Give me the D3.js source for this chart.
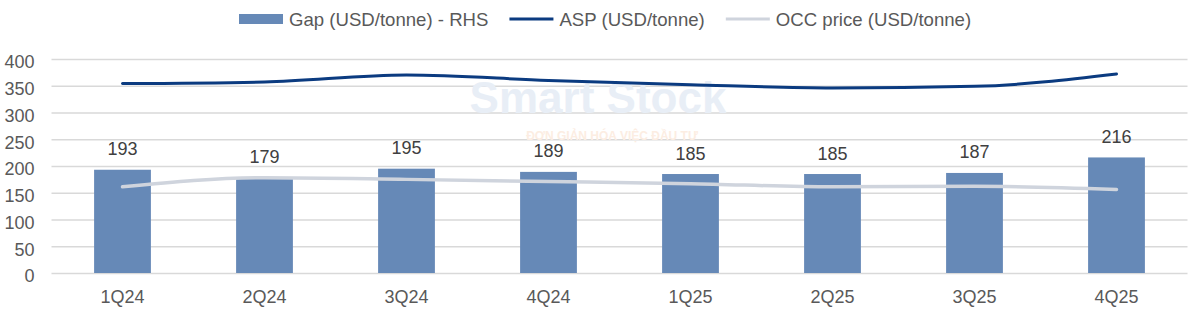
<!DOCTYPE html>
<html lang="en">
<head>
<meta charset="UTF-8">
<title>Gap ASP OCC</title>
<script src="https://cdn.jsdelivr.net/npm/d3@7"></script>
<style>
  * { margin: 0; padding: 0; }
  body { background: #fff; }
  text { font-family: Arial, "Liberation Sans", sans-serif; fill: #595959; }
</style>
</head>
<body>
<svg></svg>
<script>
  const quarters = ['1Q24', '2Q24', '3Q24', '4Q24', '1Q25', '2Q25', '3Q25', '4Q25'];
  const gap = [193, 179, 195, 189, 185, 185, 187, 216];
  const asp = [354, 357, 370, 360, 352, 346, 349, 372];
  const occ = [161, 178, 175, 171, 167, 161, 162, 156];
  const yTicks = [0, 50, 100, 150, 200, 250, 300, 350, 400];

  const width = 1200, height = 318;
  const svg = d3.select('svg').attr('width', width).attr('height', height);

  const x = d3.scaleBand()
    .domain(quarters)
    .range([51.5, 1187.5])
    .paddingInner(0.6)
    .paddingOuter(0.3);

  const y = d3.scaleLinear()
    .domain([0, 400])
    .range([273, 59]);

  // grid + left labels
  const yAxis = svg.append('g')
    .call(d3.axisLeft(y).tickValues(yTicks).tickSize(-(1187.5 - 51.5)).tickPadding(17))
    .attr('transform', 'translate(51.5,0)');
  yAxis.select('.domain').remove();
  yAxis.selectAll('.tick line').attr('stroke', '#d9d9d9').attr('stroke-width', 1.5);
  yAxis.selectAll('.tick text')
    .attr('font-size', 18).attr('fill', '#595959')
    .attr('font-family', 'Arial, "Liberation Sans", sans-serif')
    .attr('dy', '0.32em').attr('y', 3);

  // faint watermark
  const wm = svg.append('g');
  wm.append('text').attr('x', 598).attr('y', 113).attr('text-anchor', 'middle')
    .attr('font-size', 44).attr('font-weight', 'bold')
    .style('fill', '#e8eef6').text('Smart Stock');
  wm.append('text').attr('x', 612).attr('y', 140).attr('text-anchor', 'middle')
    .attr('font-size', 12).attr('font-weight', 'bold')
    .style('fill', '#fcede2').text('ĐƠN GIẢN HÓA VIỆC ĐẦU TƯ');

  // bars
  svg.append('g').selectAll('rect')
    .data(quarters).enter().append('rect')
    .attr('x', d => x(d))
    .attr('width', x.bandwidth())
    .attr('y', (d, i) => y(gap[i]))
    .attr('height', (d, i) => y(0) - y(gap[i]))
    .attr('fill', '#6689b7');

  svg.append('g').selectAll('text')
    .data(quarters).enter().append('text')
    .attr('x', d => x(d) + x.bandwidth() / 2)
    .attr('y', (d, i) => y(gap[i]) - 14.5)
    .attr('text-anchor', 'middle')
    .attr('font-size', 18)
    .style('fill', '#404040')
    .text((d, i) => gap[i]);

  const cx = d => x(d) + x.bandwidth() / 2;
  const line = vals => d3.line()
    .x(d => cx(d))
    .y((d, i) => y(vals[i]))
    .curve(d3.curveMonotoneX)(quarters);

  svg.append('path').attr('d', line(occ))
    .attr('fill', 'none').attr('stroke', '#cfd4dd').attr('stroke-width', 3.5)
    .attr('stroke-linecap', 'round');
  svg.append('path').attr('d', line(asp))
    .attr('fill', 'none').attr('stroke', '#0b3b80').attr('stroke-width', 3)
    .attr('stroke-linecap', 'round');

  // x labels
  svg.append('g').selectAll('text')
    .data(quarters).enter().append('text')
    .attr('x', d => cx(d))
    .attr('y', 303)
    .attr('text-anchor', 'middle')
    .attr('font-size', 18)
    .text(d => d);

  // legend
  const legendItems = [
    { label: 'Gap (USD/tonne) - RHS', type: 'bar', color: '#6689b7' },
    { label: 'ASP (USD/tonne)', type: 'line', color: '#0b3b80' },
    { label: 'OCC price (USD/tonne)', type: 'line', color: '#cfd4dd' }
  ];
  const legend = svg.append('g');
  let lx = 239;
  legendItems.forEach(it => {
    if (it.type === 'bar') {
      legend.append('rect').attr('x', lx).attr('y', 14).attr('width', 44).attr('height', 10).attr('fill', it.color);
    } else {
      legend.append('line').attr('x1', lx).attr('x2', lx + 44).attr('y1', 19).attr('y2', 19)
        .attr('stroke', it.color).attr('stroke-width', 3);
    }
    const t = legend.append('text').attr('x', lx + 50).attr('y', 25.5)
      .attr('font-size', 18.6).text(it.label);
    lx += 50 + t.node().getComputedTextLength() + 21;
  });
</script>
</body>
</html>
